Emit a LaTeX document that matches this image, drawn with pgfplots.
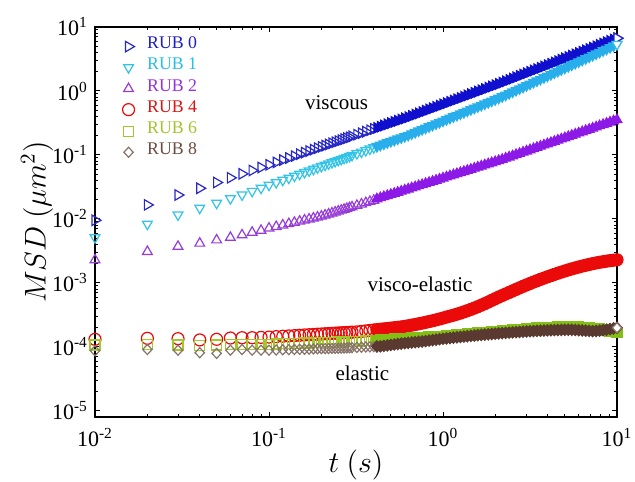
\RequirePackage{fix-cm}
\documentclass[border=0pt]{standalone}
\usepackage{pgfplots}
\pgfplotsset{compat=1.18}
\usepackage{pgfplotstable}
\usepackage{fontspec}
\setmainfont{Liberation Serif}

\definecolor{c0}{RGB}{40,40,200}
\definecolor{c0b}{RGB}{15,15,205}
\definecolor{c1}{RGB}{50,195,230}
\definecolor{c1b}{RGB}{40,175,235}
\definecolor{c2}{RGB}{150,60,215}
\definecolor{c2b}{RGB}{140,25,230}
\definecolor{c4}{RGB}{235,10,10}
\definecolor{c6}{RGB}{160,200,40}
\definecolor{c6b}{RGB}{130,190,20}
\definecolor{c8}{RGB}{135,115,105}
\definecolor{c8b}{RGB}{90,58,48}
\definecolor{l0}{RGB}{30,30,200}
\definecolor{l1}{RGB}{40,190,230}
\definecolor{l2}{RGB}{150,50,220}
\definecolor{l4}{RGB}{220,20,20}
\definecolor{l6}{RGB}{165,195,45}
\definecolor{l8}{RGB}{110,75,65}

\pgfplotstableread{
t r0 r1 r2 r4 r6 r8
0.01 9.55e-3 5.13e-3 2.29e-3 1.318e-4 1.072e-4 8.71e-5
0.02 1.66e-2 8.32e-3 3.09e-3 1.365e-4 1.084e-4 9.12e-5
0.03 2.37e-2 1.161e-2 3.72e-3 1.349e-4 1.072e-4 8.91e-5
0.04 3.02e-2 1.479e-2 4.17e-3 1.288e-4 1.059e-4 8.13e-5
0.05 3.72e-2 1.770e-2 4.68e-3 1.318e-4 1.072e-4 7.94e-5
0.06 4.40e-2 2.089e-2 5.13e-3 1.380e-4 1.084e-4 8.91e-5
0.07 5.07e-2 2.388e-2 5.62e-3 1.396e-4 1.096e-4 9.12e-5
0.08 5.73e-2 2.72e-2 6.17e-3 1.396e-4 1.096e-4 8.91e-5
0.09 6.38e-2 3.04e-2 6.61e-3 1.413e-4 1.109e-4 8.91e-5
0.10 7.03e-2 3.39e-2 7.16e-3 1.429e-4 1.109e-4 8.91e-5
0.11 7.67e-2 3.72e-2 7.59e-3 1.452e-4 1.117e-4 8.97e-5
0.12 8.33e-2 4.05e-2 8.02e-3 1.472e-4 1.125e-4 9.04e-5
0.13 8.97e-2 4.375e-2 8.43e-3 1.489e-4 1.132e-4 9.09e-5
0.14 9.61e-2 4.70e-2 8.82e-3 1.507e-4 1.140e-4 9.14e-5
0.15 1.03e-1 5.03e-2 9.20e-3 1.524e-4 1.146e-4 9.19e-5
0.16 1.089e-1 5.36e-2 9.58e-3 1.542e-4 1.152e-4 9.23e-5
0.17 1.151e-1 5.68e-2 9.94e-3 1.556e-4 1.157e-4 9.27e-5
0.18 1.213e-1 6.01e-2 1.030e-2 1.570e-4 1.162e-4 9.31e-5
0.19 1.278e-1 6.34e-2 1.067e-2 1.585e-4 1.167e-4 9.35e-5
0.20 1.340e-1 6.66e-2 1.102e-2 1.596e-4 1.172e-4 9.39e-5
0.21 1.401e-1 6.98e-2 1.144e-2 1.609e-4 1.177e-4 9.42e-5
0.22 1.462e-1 7.30e-2 1.189e-2 1.622e-4 1.181e-4 9.45e-5
0.23 1.528e-1 7.64e-2 1.235e-2 1.633e-4 1.186e-4 9.49e-5
0.24 1.585e-1 7.95e-2 1.277e-2 1.644e-4 1.190e-4 9.52e-5
0.25 1.648e-1 8.28e-2 1.322e-2 1.656e-4 1.194e-4 9.55e-5
0.26 1.710e-1 8.60e-2 1.366e-2 1.665e-4 1.197e-4 9.59e-5
0.27 1.770e-1 8.92e-2 1.408e-2 1.675e-4 1.201e-4 9.64e-5
0.28 1.832e-1 9.24e-2 1.452e-2 1.685e-4 1.205e-4 9.68e-5
0.29 1.892e-1 9.56e-2 1.494e-2 1.694e-4 1.208e-4 9.72e-5
0.30 1.954e-1 9.89e-2 1.538e-2 1.703e-4 1.211e-4 9.76e-5
0.32 2.075e-1 1.053e-1 1.623e-2 1.723e-4 1.219e-4 9.84e-5
0.34 2.193e-1 1.116e-1 1.705e-2 1.754e-4 1.232e-4 9.92e-5
0.36 2.312e-1 1.181e-1 1.789e-2 1.785e-4 1.245e-4 9.99e-5
0.38 2.435e-1 1.246e-1 1.873e-2 1.816e-4 1.257e-4 1.006e-4
0.40 2.553e-1 1.309e-1 1.953e-2 1.843e-4 1.269e-4 1.012e-4
}\sparse

\pgfplotstableread{
t r0 r1 r2 r4 r6 r8
0.4169 2.652e-1 1.363e-1 2.057e-2 1.866e-4 1.279e-4 1.019e-4
0.4365 2.768e-1 1.426e-1 2.140e-2 1.892e-4 1.288e-4 1.023e-4
0.4571 2.889e-1 1.491e-1 2.226e-2 1.919e-4 1.300e-4 1.040e-4
0.4786 3.015e-1 1.560e-1 2.315e-2 1.945e-4 1.309e-4 1.059e-4
0.5012 3.148e-1 1.632e-1 2.408e-2 1.972e-4 1.321e-4 1.076e-4
0.5248 3.286e-1 1.706e-1 2.504e-2 2.000e-4 1.334e-4 1.094e-4
0.5495 3.429e-1 1.785e-1 2.605e-2 2.028e-4 1.343e-4 1.112e-4
0.5754 3.579e-1 1.866e-1 2.709e-2 2.061e-4 1.355e-4 1.130e-4
0.6026 3.736e-1 1.952e-1 2.818e-2 2.099e-4 1.365e-4 1.143e-4
0.6310 3.899e-1 2.042e-1 2.931e-2 2.143e-4 1.374e-4 1.159e-4
0.6607 4.083e-1 2.149e-1 3.049e-2 2.193e-4 1.384e-4 1.175e-4
0.6918 4.276e-1 2.262e-1 3.171e-2 2.244e-4 1.393e-4 1.189e-4
0.7244 4.477e-1 2.381e-1 3.298e-2 2.301e-4 1.406e-4 1.205e-4
0.7586 4.688e-1 2.506e-1 3.430e-2 2.360e-4 1.416e-4 1.219e-4
0.7943 4.909e-1 2.638e-1 3.568e-2 2.427e-4 1.426e-4 1.236e-4
0.8318 5.140e-1 2.777e-1 3.711e-2 2.495e-4 1.435e-4 1.260e-4
0.8710 5.383e-1 2.923e-1 3.860e-2 2.570e-4 1.445e-4 1.280e-4
0.9120 5.636e-1 3.077e-1 4.014e-2 2.649e-4 1.459e-4 1.302e-4
0.9550 5.902e-1 3.238e-1 4.176e-2 2.735e-4 1.469e-4 1.322e-4
1.000 6.180e-1 3.409e-1 4.343e-2 2.831e-4 1.479e-4 1.345e-4
1.047 6.471e-1 3.588e-1 4.517e-2 2.931e-4 1.496e-4 1.362e-4
1.096 6.776e-1 3.777e-1 4.699e-2 3.034e-4 1.510e-4 1.380e-4
1.148 7.096e-1 3.976e-1 4.887e-2 3.141e-4 1.528e-4 1.399e-4
1.202 7.430e-1 4.184e-1 5.083e-2 3.258e-4 1.545e-4 1.418e-4
1.259 7.780e-1 4.404e-1 5.287e-2 3.388e-4 1.560e-4 1.436e-4
1.318 8.147e-1 4.636e-1 5.499e-2 3.532e-4 1.578e-4 1.454e-4
1.380 8.531e-1 4.880e-1 5.720e-2 3.690e-4 1.596e-4 1.472e-4
1.445 8.933e-1 5.137e-1 5.948e-2 3.864e-4 1.611e-4 1.492e-4
1.514 9.354e-1 5.407e-1 6.187e-2 4.055e-4 1.629e-4 1.510e-4
1.585 9.795e-1 5.691e-1 6.435e-2 4.266e-4 1.648e-4 1.528e-4
1.660 1.026 5.991e-1 6.694e-2 4.498e-4 1.663e-4 1.545e-4
1.738 1.074 6.306e-1 6.962e-2 4.753e-4 1.683e-4 1.562e-4
1.820 1.125 6.637e-1 7.241e-2 5.035e-4 1.702e-4 1.578e-4
1.905 1.178 6.985e-1 7.532e-2 5.346e-4 1.718e-4 1.594e-4
1.995 1.233 7.353e-1 7.834e-2 5.675e-4 1.738e-4 1.612e-4
2.089 1.291 7.741e-1 8.149e-2 6.026e-4 1.758e-4 1.628e-4
2.188 1.354 8.172e-1 8.492e-2 6.368e-4 1.778e-4 1.645e-4
2.291 1.421 8.654e-1 8.868e-2 6.730e-4 1.795e-4 1.660e-4
2.399 1.491 9.160e-1 9.261e-2 7.112e-4 1.816e-4 1.675e-4
2.512 1.565 9.698e-1 9.670e-2 7.516e-4 1.837e-4 1.690e-4
2.630 1.643 1.027 1.010e-1 7.943e-4 1.858e-4 1.706e-4
2.754 1.724 1.087 1.054e-1 8.395e-4 1.879e-4 1.720e-4
2.884 1.809 1.151 1.101e-1 8.851e-4 1.897e-4 1.735e-4
3.020 1.899 1.218 1.150e-1 9.333e-4 1.919e-4 1.750e-4
3.162 1.993 1.290 1.201e-1 9.817e-4 1.941e-4 1.762e-4
3.311 2.092 1.366 1.254e-1 1.033e-3 1.963e-4 1.775e-4
3.467 2.195 1.446 1.309e-1 1.084e-3 1.986e-4 1.788e-4
3.631 2.304 1.531 1.367e-1 1.138e-3 2.000e-4 1.798e-4
3.802 2.418 1.621 1.428e-1 1.191e-3 2.009e-4 1.808e-4
3.981 2.538 1.716 1.491e-1 1.247e-3 2.018e-4 1.818e-4
4.169 2.663 1.817 1.557e-1 1.303e-3 2.028e-4 1.825e-4
4.365 2.796 1.923 1.626e-1 1.361e-3 2.037e-4 1.833e-4
4.571 2.934 2.036 1.698e-1 1.419e-3 2.046e-4 1.840e-4
4.786 3.080 2.156 1.773e-1 1.479e-3 2.056e-4 1.848e-4
5.012 3.232 2.282 1.851e-1 1.538e-3 2.065e-4 1.855e-4
5.248 3.393 2.416 1.933e-1 1.600e-3 2.075e-4 1.858e-4
5.495 3.561 2.558 2.018e-1 1.660e-3 2.084e-4 1.855e-4
5.754 3.737 2.708 2.108e-1 1.718e-3 2.084e-4 1.845e-4
6.026 3.923 2.867 2.201e-1 1.778e-3 2.051e-4 1.830e-4
6.310 4.117 3.035 2.298e-1 1.837e-3 2.028e-4 1.815e-4
6.607 4.321 3.214 2.400e-1 1.892e-3 2.000e-4 1.800e-4
6.918 4.536 3.402 2.506e-1 1.950e-3 1.977e-4 1.785e-4
7.244 4.760 3.603 2.617e-1 2.004e-3 1.954e-4 1.770e-4
7.586 4.996 3.814 2.733e-1 2.056e-3 1.928e-4 1.780e-4
7.943 5.244 4.037 2.854e-1 2.104e-3 1.905e-4 1.800e-4
8.318 5.504 4.275 2.980e-1 2.148e-3 1.862e-4 1.830e-4
8.710 5.776 4.525 3.112e-1 2.193e-3 1.820e-4 1.865e-4
9.120 6.063 4.792 3.249e-1 2.234e-3 1.778e-4 1.905e-4
9.550 6.363 5.073 3.393e-1 2.270e-3 1.738e-4 1.950e-4
10.00 6.678 5.372 3.543e-1 2.301e-3 1.698e-4 1.995e-4
}\dense

\begin{document}
\begin{tikzpicture}
\useasboundingbox (-47.5pt,-32pt) rectangle (270pt,208.5pt);
\begin{axis}[
  scale only axis, width=261pt, height=195pt,
  xmode=log, ymode=log,
  xmin=0.01, xmax=10, ymin=8.05e-6, ymax=10,
  xtick={0.01,0.1,1,10},
  xticklabels={10\textsuperscript{-2},10\textsuperscript{-1},10\textsuperscript{0},10\textsuperscript{1}},
  ytick={1e-5,1e-4,1e-3,1e-2,1e-1,1,10},
  yticklabels={10\textsuperscript{-5},10\textsuperscript{-4},10\textsuperscript{-3},10\textsuperscript{-2},10\textsuperscript{-1},10\textsuperscript{0},10\textsuperscript{1}},
  tick align=inside,
  major tick length=2.3pt, minor tick length=1.3pt,
  axis line style={line width=0.6pt},
  every tick/.style={black, line width=0.5pt},
  tick label style={font=\fontsize{11}{13}\selectfont},
  xticklabel style={yshift=-2pt},
  xlabel={$t\ (s)$}, ylabel={$MSD\ (\mu m^2)$},
  label style={font=\fontsize{15}{18}\selectfont},
  xlabel style={at={(axis description cs:0.5,-0.123)}, anchor=center},
  ylabel style={at={(axis description cs:-0.111,0.5)}, anchor=center},
  clip=false,
  legend cell align=left,
  legend image code/.code={\draw[#1,only marks] plot coordinates {(0pt,1.2pt)};},
  legend style={draw=none, fill=none, at={(rel axis cs:0.052,0.975)}, anchor=north west,
    font=\fontsize{8.9}{10}\selectfont, inner sep=0pt, row sep=3.1pt, column sep=6.3pt,
    nodes={inner sep=0pt, anchor=base west}},
]
\addplot[c0, only marks, mark=triangle, mark size=3pt, mark options={rotate=-90, line width=0.6pt}] table[x=t,y=r0] {\sparse};
\addlegendentry{\textcolor{l0}{RUB 0}}
\addplot[c0b, forget plot, only marks, mark=triangle*, mark size=3pt, mark options={rotate=-90, fill=c0b, line width=0.6pt}] table[x=t,y=r0] {\dense};

\addplot[c1, only marks, mark=triangle, mark size=2.8pt, mark options={rotate=180, line width=0.6pt}] table[x=t,y=r1] {\sparse};
\addlegendentry{\textcolor{l1}{RUB 1}}
\addplot[c1b, forget plot, only marks, mark=triangle*, mark size=2.8pt, mark options={rotate=180, fill=c1b, line width=0.6pt}] table[x=t,y=r1] {\dense};

\addplot[c2, only marks, mark=triangle, mark size=2.8pt, mark options={line width=0.6pt}] table[x=t,y=r2] {\sparse};
\addlegendentry{\textcolor{l2}{RUB 2}}
\addplot[c2b, forget plot, only marks, mark=triangle*, mark size=2.8pt, mark options={fill=c2b, line width=0.6pt}] table[x=t,y=r2] {\dense};

\addplot[c4, only marks, mark=o, mark size=3pt, mark options={line width=0.6pt}] table[x=t,y=r4] {\sparse};
\addlegendentry{\textcolor{l4}{RUB 4}}
\addplot[c4, forget plot, only marks, mark=*, mark size=3pt, mark options={fill=c4, line width=0.6pt}] table[x=t,y=r4] {\dense};

\addplot[c6, only marks, mark=square, mark size=2.5pt, mark options={line width=0.6pt}] table[x=t,y=r6] {\sparse};
\addlegendentry{\textcolor{l6}{RUB 6}}
\addplot[c6b, forget plot, only marks, mark=square*, mark size=2.5pt, mark options={fill=c6b, line width=0.6pt}] table[x=t,y=r6] {\dense};

\addplot[c8, only marks, mark=diamond, mark size=2.5pt, mark options={xscale=1.25, line width=0.6pt}] table[x=t,y=r8] {\sparse};
\addlegendentry{\textcolor{l8}{RUB 8}}
\addplot[c8b, forget plot, only marks, mark=diamond*, mark size=2.8pt, mark options={xscale=1.25, fill=c8b, line width=0.6pt}] table[x=t,y=r8] {\dense};

\addplot[c0, forget plot, only marks, mark=triangle*, mark size=3pt, mark options={rotate=-90, fill=white, line width=0.6pt}] coordinates {(10,6.678)};
\addplot[c1, forget plot, only marks, mark=triangle*, mark size=2.8pt, mark options={rotate=180, fill=white, line width=0.6pt}] coordinates {(10,5.372)};
\addplot[c8, forget plot, only marks, mark=diamond*, mark size=2.5pt, mark options={xscale=1.25, fill=white, line width=0.6pt}] coordinates {(10,1.995e-4)};

\node[font=\fontsize{10.5}{12}\selectfont] at (axis cs:0.2443,0.649) {viscous};
\node[font=\fontsize{10.5}{12}\selectfont] at (axis cs:0.738,9.64e-4) {visco-elastic};
\node[font=\fontsize{10.5}{12}\selectfont] at (axis cs:0.344,3.92e-5) {elastic};
\end{axis}
\end{tikzpicture}
\end{document}
